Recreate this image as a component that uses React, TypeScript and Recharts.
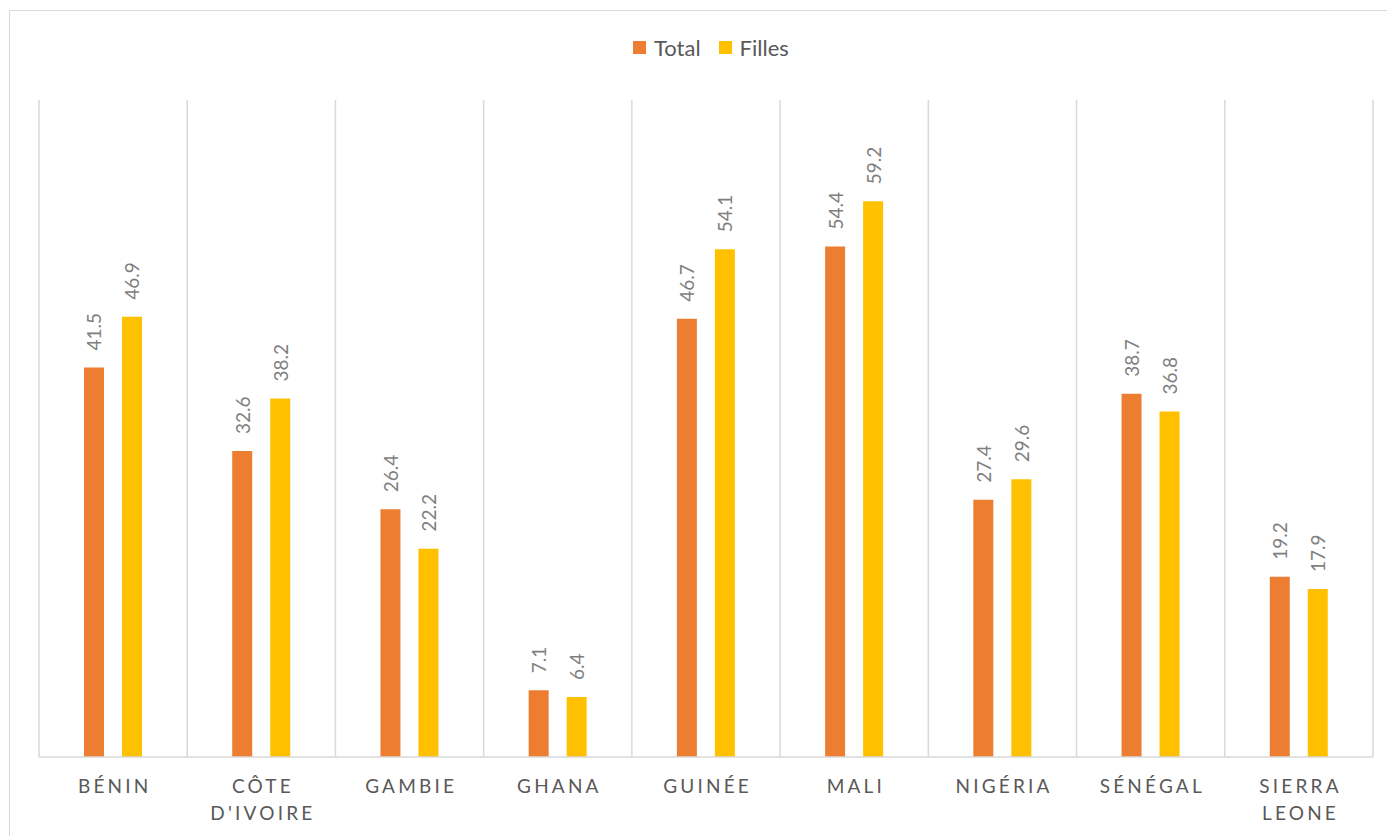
import * as React from "react"
import {
  BarChart, Bar, XAxis, YAxis, CartesianGrid, LabelList,
} from "recharts"

// ── Data ──────────────────────────────────────────────────────
const COUNTRIES = [
  "BÉNIN", "CÔTE D'IVOIRE", "GAMBIE", "GHANA", "GUINÉE",
  "MALI", "NIGÉRIA", "SÉNÉGAL", "SIERRA LEONE",
]
const TOTAL  = [41.5, 32.6, 26.4, 7.1, 46.7, 54.4, 27.4, 38.7, 19.2]
const FILLES = [46.9, 38.2, 22.2, 6.4, 54.1, 59.2, 29.6, 36.8, 17.9]

// Wrapped category labels (line breaks as in the axis)
const TICK_LINES: Record<string, string[]> = {
  "CÔTE D'IVOIRE": ["CÔTE", "D'IVOIRE"],
  "SIERRA LEONE": ["SIERRA", "LEONE"],
}

const data = COUNTRIES.map((c, i) => ({ country: c, total: TOTAL[i], filles: FILLES[i] }))

// ── Style ─────────────────────────────────────────────────────
const ORANGE = "#ED7D31"
const YELLOW = "#FFC000"
const GRID = "#D9D9D9"
const FONT = "Lato, 'Open Sans', sans-serif"
const LETTER_SPACING = 3.2

function CategoryTick(props: any) {
  const { x, y, payload } = props
  const lines = TICK_LINES[payload.value] ?? [payload.value]
  return (
    <text
      x={x + LETTER_SPACING / 2}
      y={y}
      textAnchor="middle"
      fill="#595959"
      fontFamily={FONT}
      fontSize={19}
      letterSpacing={LETTER_SPACING}
    >
      {lines.map((l, i) => (
        <tspan key={l} x={x + LETTER_SPACING / 2} dy={i === 0 ? 28 : 27}>{l}</tspan>
      ))}
    </text>
  )
}

function ValueLabel(props: any) {
  const { x, y, width, value } = props
  const cx = x + width / 2
  const top = y - 17
  return (
    <text
      x={cx}
      y={top}
      transform={`rotate(-90 ${cx} ${top})`}
      textAnchor="start"
      dominantBaseline="central"
      fill="#7F7F7F"
      fontFamily={FONT}
      fontSize={19}
    >
      {value.toFixed(1)}
    </text>
  )
}

function LegendItem({ colour, label }: { colour: string; label: string }) {
  return (
    <span style={{ display: "inline-flex", alignItems: "center", marginRight: 18 }}>
      <span style={{ width: 13, height: 13, background: colour, marginRight: 8 }} />
      <span style={{ fontFamily: FONT, fontSize: 22, color: "#595959" }}>{label}</span>
    </span>
  )
}

export default function App() {
  return (
    <div style={{
      position: "relative",
      marginLeft: 1,
      marginTop: 2,
      width: 1384,
      height: 825,
      border: `1px solid ${GRID}`,
      background: "#FFFFFF",
    }}>
      <div style={{ position: "absolute", left: 623, top: 23, display: "flex" }}>
        <LegendItem colour={ORANGE} label="Total" />
        <LegendItem colour={YELLOW} label="Filles" />
      </div>
      <BarChart
        width={1384}
        height={825}
        data={data}
        barSize={20}
        barGap={18}
        margin={{ top: 89, right: 21, bottom: 19, left: 29 }}
      >
        <CartesianGrid
          horizontal={false}
          stroke={GRID}
          strokeWidth={1.5}
          verticalCoordinatesGenerator={({ offset }: any) =>
            COUNTRIES.map((_, i) => offset.left + (i * offset.width) / COUNTRIES.length)
              .concat(offset.left + offset.width)
          }
        />
        <XAxis
          dataKey="country"
          tick={<CategoryTick />}
          tickLine={false}
          axisLine={{ stroke: GRID, strokeWidth: 1.5 }}
          height={60}
          interval={0}
        />
        <YAxis hide domain={[0, 70]} />
        <Bar dataKey="total" name="Total" fill={ORANGE} isAnimationActive={false}>
          <LabelList dataKey="total" content={<ValueLabel />} />
        </Bar>
        <Bar dataKey="filles" name="Filles" fill={YELLOW} isAnimationActive={false}>
          <LabelList dataKey="filles" content={<ValueLabel />} />
        </Bar>
      </BarChart>
    </div>
  )
}
